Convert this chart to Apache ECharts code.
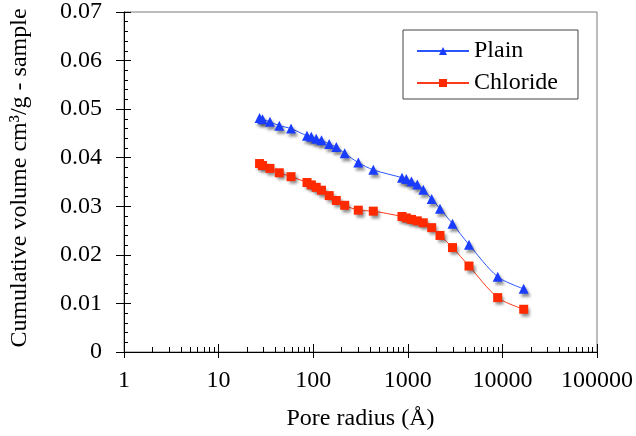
<!DOCTYPE html>
<html>
<head>
<meta charset="utf-8">
<script src="https://cdn.jsdelivr.net/npm/echarts@6/dist/echarts.min.js"></script>
<style>
  html, body { margin: 0; padding: 0; background: #fff; }
  #chart { width: 636px; height: 436px; }
</style>
</head>
<body>
<div id="chart"></div>
<script>
// Pore radius (Å) for each intrusion step — same steps for both mixes
const poreRadius = [27.1, 29.1, 34.9, 43.8, 58.3, 86.0, 95.5, 107.6, 122.4, 147.6,
  175.5, 215.3, 299.7, 431.9, 868, 964, 1094, 1260, 1458, 1789,
  2190, 2968, 4436, 8918, 16800];

// Cumulative intruded volume (cm³/g of sample)
const plainVolume = [0.0482, 0.0479, 0.0474, 0.0466, 0.0460, 0.0445, 0.0443, 0.0439, 0.0436, 0.0428,
  0.0422, 0.0409, 0.0390, 0.0375, 0.0359, 0.0356, 0.0351, 0.0345, 0.0334, 0.0315,
  0.0295, 0.0264, 0.0221, 0.0155, 0.0130];
const chlorideVolume = [0.0388, 0.0384, 0.0378, 0.0369, 0.0361, 0.0349, 0.0344, 0.0339, 0.0333, 0.0322,
  0.0312, 0.0302, 0.0292, 0.0290, 0.0279, 0.0276, 0.0273, 0.0270, 0.0266, 0.0256,
  0.0240, 0.0215, 0.0177, 0.0112, 0.0088];

const seriesNames = ['Plain', 'Chloride'];

// Axis tick values
const xMajorTicks = [1, 10, 100, 1000, 10000, 100000];
const xMinorTicks = [];
xMajorTicks.slice(0, -1).forEach(function (d) {
  for (let k = 2; k <= 9; k++) xMinorTicks.push(d * k);
});
const yTicks = [0, 0.01, 0.02, 0.03, 0.04, 0.05, 0.06, 0.07];

const FONT = '"Liberation Serif", "Times New Roman", serif';

const chart = echarts.init(document.getElementById('chart'), null, { renderer: 'canvas' });

function pairs(xs, ys) {
  return xs.map(function (x, i) { return [x, ys[i]]; });
}

const logAxisBase = {
  type: 'log',
  logBase: 10,
  min: xMajorTicks[0],
  max: xMajorTicks[xMajorTicks.length - 1],
  position: 'bottom',
  gridIndex: 0,
  splitLine: { show: false }
};

const markerShadow = {
  shadowColor: 'rgba(0,0,0,0.45)',
  shadowBlur: 3,
  shadowOffsetX: 2,
  shadowOffsetY: 3
};

chart.setOption({
  animation: false,
  backgroundColor: '#ffffff',
  grid: {
    left: 124, right: 39, top: 12, bottom: 83,
    show: true,
    borderColor: '#7a7a7a',
    borderWidth: 1,
    backgroundColor: 'transparent'
  },
  legend: {
    orient: 'vertical',
    left: 403,
    top: 30,
    padding: [9, 20, 4, 13],
    itemGap: 8,
    itemWidth: 52,
    itemHeight: 10,
    backgroundColor: '#ffffff',
    borderColor: '#444',
    borderWidth: 1,
    borderRadius: 0,
    textStyle: { fontFamily: FONT, fontSize: 24, color: '#000' },
    data: seriesNames
  },
  xAxis: [
    Object.assign({}, logAxisBase, {
      name: 'Pore radius (Å)',
      nameLocation: 'middle',
      nameGap: 55,
      nameTextStyle: { fontFamily: FONT, fontSize: 24, color: '#000' },
      axisLine: { show: true, lineStyle: { color: '#000', width: 1 } },
      axisTick: { show: true, inside: false, length: 6, customValues: xMajorTicks, lineStyle: { color: '#000' } },
      axisLabel: {
        show: true, margin: 17, customValues: xMajorTicks,
        fontFamily: FONT, fontSize: 24, color: '#000',
        formatter: function (v) { return String(Math.round(v)); }
      }
    }),
    Object.assign({}, logAxisBase, {
      axisLine: { show: false },
      axisTick: { show: true, inside: true, length: 8, customValues: xMajorTicks, lineStyle: { color: '#000' } },
      axisLabel: { show: false }
    }),
    Object.assign({}, logAxisBase, {
      axisLine: { show: false },
      axisTick: { show: true, inside: true, length: 5, customValues: xMinorTicks, lineStyle: { color: '#000' } },
      axisLabel: { show: false }
    })
  ],
  yAxis: [
    {
      type: 'value',
      position: 'left',
      min: yTicks[0],
      max: yTicks[yTicks.length - 1],
      interval: 0.01,
      name: 'Cumulative volume cm³/g - sample',
      nameLocation: 'middle',
      nameGap: 92,
      nameTextStyle: { fontFamily: FONT, fontSize: 24, color: '#000', padding: [0, 0, 0, 8] },
      axisLine: { show: true, lineStyle: { color: '#000', width: 1 } },
      axisTick: { show: true, inside: false, length: 8, lineStyle: { color: '#000' } },
      axisLabel: {
        show: true, margin: 22,
        fontFamily: FONT, fontSize: 24, color: '#000',
        formatter: function (v) { return v === 0 ? '0' : v.toFixed(2); }
      },
      splitLine: { show: false }
    },
    {
      type: 'value',
      position: 'left',
      min: yTicks[0],
      max: yTicks[yTicks.length - 1],
      interval: 0.01,
      axisLine: { show: false },
      axisTick: { show: true, inside: true, length: 7, lineStyle: { color: '#000' } },
      minorTick: { show: true, splitNumber: 5, length: 4, lineStyle: { color: '#000' } },
      axisLabel: { show: false },
      splitLine: { show: false }
    }
  ],
  series: [
    {
      name: seriesNames[0],
      type: 'line',
      xAxisIndex: 0,
      yAxisIndex: 0,
      data: pairs(poreRadius, plainVolume),
      smooth: 0.3,
      symbol: 'triangle',
      symbolSize: 10,
      lineStyle: { color: '#2a55ff', width: 1 },
      itemStyle: Object.assign({ color: '#1a3cff', borderWidth: 0 }, markerShadow),
      z: 3
    },
    {
      name: seriesNames[1],
      type: 'line',
      xAxisIndex: 0,
      yAxisIndex: 0,
      data: pairs(poreRadius, chlorideVolume),
      smooth: 0.3,
      symbol: 'rect',
      symbolSize: 9,
      lineStyle: { color: '#ff3a1a', width: 1 },
      itemStyle: Object.assign({ color: '#ff2a00', borderWidth: 0 }, markerShadow),
      z: 3
    }
  ]
});
</script>
</body>
</html>
